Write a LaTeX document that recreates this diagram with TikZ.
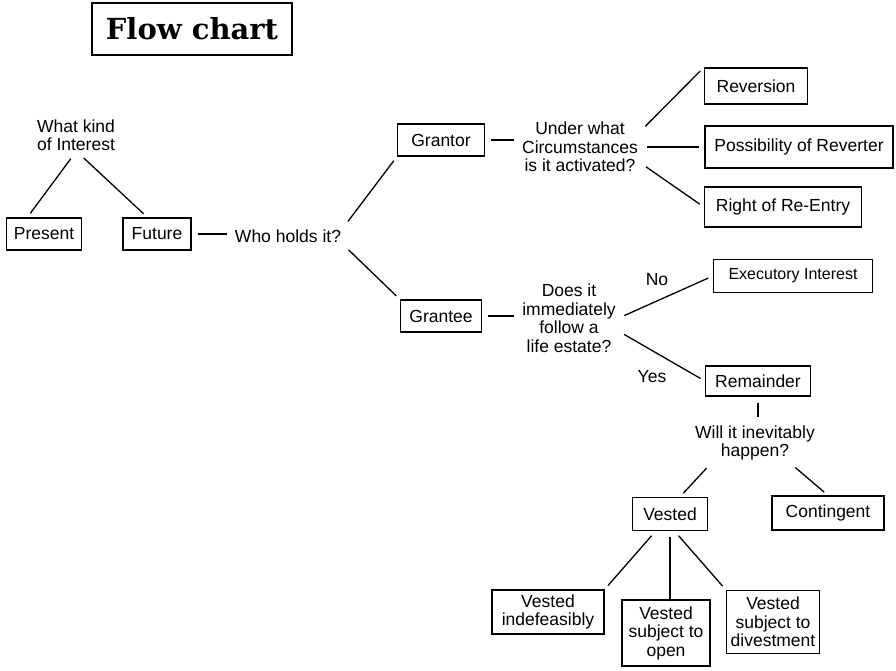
\documentclass[tikz,border=0pt]{standalone}
\usepackage{fontspec}
\setmainfont{Liberation Sans}
\newfontfamily\titlefont{DejaVu Serif}
\usepackage{tikz}

\begin{document}
\begin{tikzpicture}[x=1pt, y=-1pt,
		box/.style={draw, line width=1.3pt, minimum height=32, inner sep=4pt, align=center, font=\fontsize{17.5pt}{18.5pt}\selectfont},
		ask/.style={align=center, inner sep=3pt, font=\fontsize{17.5pt}{18.5pt}\selectfont},
		link/.style={line width=1.3pt, shorten <=6pt, shorten >=5pt}]
				\useasboundingbox (0,0) rectangle (896,670);
				\node[draw, line width=1.3pt, minimum width=200, minimum height=52, font=\titlefont\bfseries\fontsize{29pt}{32pt}\selectfont] (T)at(192, 29) {Flow chart};
				\node[ask] (Kind)at(76, 135) {What kind\\of Interest};
				\node[box, minimum width=75] (Pres)at(44, 234) {Present};
				\node[box, minimum width=68] (Fut)at(157, 234) {Future};
				\node[ask] (Who)at(288, 236) {Who holds it?};
				\node[box, minimum width=87] (Grt)at(441, 140) {Grantor};
				\node[box, minimum width=81] (Gte)at(441, 316) {Grantee};
				\node[ask] (Und)at(580, 147) {Under what\\Circumstances\\is it activated?};
				\node[box, minimum width=103, minimum height=36] (Rev)at(756, 86) {Reversion};
				\node[box, minimum width=188, minimum height=42] (Pos)at(799, 147) {Possibility of Reverter};
				\node[box, minimum width=157, minimum height=40] (Ent)at(783, 207) {Right of Re-Entry};
				\node[ask] (Does)at(569, 318) {Does it\\immediately\\follow a\\life estate?};
				\node[box, minimum width=159, minimum height=33, font=\fontsize{16pt}{18pt}\selectfont] (Exe)at(793, 276) {Executory Interest};
				\node[box, minimum width=105, minimum height=30] (Rem)at(758, 381) {Remainder};
				\node[ask] (No)at(657, 280) {No};
				\node[ask] (Yes)at(652, 377) {Yes};
				\node[ask] (Will)at(755, 443) {Will it inevitably\\happen?};
				\node[box, minimum width=75, minimum height=33] (Ves)at(670, 514) {Vested};
				\node[box, minimum width=112, minimum height=34] (Con)at(828, 513) {Contingent};
				\node[box, minimum width=112, minimum height=44] (Ind)at(548, 612) {Vested\\indefeasibly};
				\node[box, minimum width=88, minimum height=66] (Opn)at(666, 633) {Vested\\subject to\\open};
				\node[box, minimum width=93, minimum height=63] (Div)at(773, 622) {Vested\\subject to\\divestment};
				\draw[link] (Kind.-95) -- (Pres.135);
				\draw[link] (Kind.-80) -- (Fut.120);
				\draw[link] (Fut.east) -- (Fut.east -| Who.west);
				\draw[link] (Who.north east) -- (Grt.south west);
				\draw[link] (Who.south east) -- (Gte.north west);
				\draw[link] (Grt.east) -- (Grt.east -| Und.west);
				\draw[link] (Und.15) -- (Rev.north west);
				\draw[link] (Und.east) -- (Und.east -| Pos.west);
				\draw[link] (Und.-15) -- (Ent.west);
				\draw[link] (Gte.east) -- (Gte.east -| Does.west);
				\draw[link] (Does.east) -- (Exe.west);
				\draw[link] (Does.-15) -- (Rem.west);
				\draw[link] (Rem.south) -- (Rem.south |- Will.north);
				\draw[link] (Will.-155) -- (Ves.60);
				\draw[link] (Will.-30) -- (Con.north);
				\draw[link] (Ves.-130) -- (Ind.north east);
				\draw[link, shorten >=0pt] (Ves.south) -- (Ves.south |- Opn.north);
				\draw[link] (Ves.-75) -- (Div.north west);
			\end{tikzpicture}
\end{document}
